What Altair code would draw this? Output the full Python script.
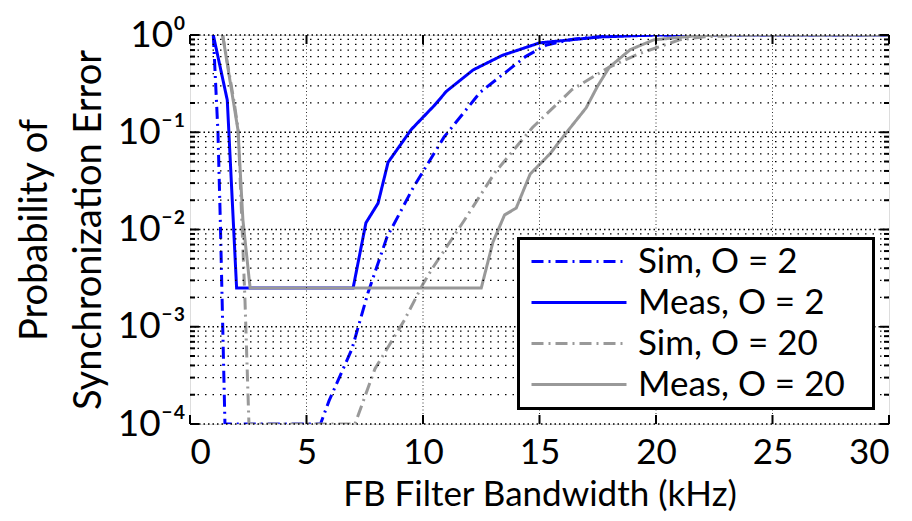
import altair as alt
import pandas as pd

# ---------------- data ----------------
SERIES = ["Sim, O = 2", "Meas, O = 2", "Sim, O = 20", "Meas, O = 20"]
COLORS = ["#0000ff", "#0000ff", "#999999", "#999999"]
DASHES = [[12, 5, 2, 5], [1, 0], [12, 5, 2, 5], [1, 0]]

sim2_x = [1.0, 1.2, 1.3, 1.5, 5.6, 5.97, 6.95, 7.64, 8.45, 9.6, 10.9, 12.45, 14.4, 15.3, 16.5, 18.0, 20.0, 30.0]
sim2_y = [1.0, 0.1, 0.0126, 1e-4, 1e-4, 1.74e-4, 5.9e-4, 2.24e-3, 8.3e-3, 0.0275, 0.089, 0.257, 0.60, 0.79, 0.91, 0.98, 1.0, 1.0]

meas2_x = [1.0, 1.6, 2.0, 7.0, 7.55, 8.07, 8.5, 9.5, 10.5, 11.0, 12.15, 13.4, 15.0, 17.6, 20.0, 30.0]
meas2_y = [1.0, 0.214, 2.5e-3, 2.5e-3, 0.0117, 0.0186, 0.049, 0.107, 0.19, 0.263, 0.437, 0.617, 0.83, 0.955, 1.0, 1.0]

sim20_x = [1.4, 1.9, 2.07, 2.36, 2.53, 7.08, 7.94, 9.2, 10.0, 10.4, 11.76, 13.1, 14.7, 16.4, 18.0, 19.3, 21.0, 22.0, 24.0, 30.0]
sim20_y = [1.0, 0.2, 0.105, 1.86e-3, 1e-4, 1e-4, 3.7e-4, 1.17e-3, 2.75e-3, 3.98e-3, 0.0123, 0.0389, 0.112, 0.275, 0.468, 0.646, 0.891, 0.955, 1.0, 1.0]

meas20_x = [1.4, 2.06, 2.27, 2.58, 12.5, 13.0, 13.5, 14.0, 14.6, 15.45, 16.0, 17.0, 17.5, 18.0, 18.9, 19.9, 21.6, 23.0, 30.0]
meas20_y = [1.0, 0.105, 0.0126, 2.5e-3, 2.5e-3, 7.4e-3, 0.0141, 0.0166, 0.0372, 0.060, 0.089, 0.178, 0.30, 0.468, 0.708, 0.891, 0.977, 1.0, 1.0]

X_TICKS = [0, 5, 10, 15, 20, 25, 30]
Y_EXPONENTS = [-4, -3, -2, -1, 0]
Y_TICK_LABELS = ["10⁻⁴", "10⁻³", "10⁻²", "10⁻¹", "10⁰"]
Y_MAJOR = [1e-4, 1e-3, 1e-2, 1e-1, 1.0]
Y_MINOR = [m * d for d in [1e-4, 1e-3, 1e-2, 1e-1] for m in range(2, 10)]

# ---------------- tables ----------------
rows = []
for name, xs, ys in zip(SERIES, [sim2_x, meas2_x, sim20_x, meas20_x], [sim2_y, meas2_y, sim20_y, meas20_y]):
    for i, (x, y) in enumerate(zip(xs, ys)):
        rows.append({"series": name, "bw": x, "p": y, "order": i})
df = pd.DataFrame(rows)

major_df = pd.DataFrame({"p": Y_MAJOR})
minor_df = pd.DataFrame({"p": Y_MINOR})
xgrid_df = pd.DataFrame({"bw": X_TICKS[1:-1]})
xtick_df = pd.DataFrame({"bw": X_TICKS})
frame_df = pd.DataFrame({"k": [0]})

W, H = 699, 389
FONT = "Lato"

xscale = alt.Scale(domain=[0, 30], nice=False, zero=False)
yscale = alt.Scale(type="log", domain=[1e-4, 1], nice=False)

label_expr = " : ".join(
    f"abs(log(datum.value)/LN10 - ({e})) < 0.01 ? '{lab}'" for e, lab in zip(Y_EXPONENTS, Y_TICK_LABELS)
) + " : ''"

X_TITLE = "FB Filter Bandwidth (kHz)"
Y_TITLE = ["Probability of", "Synchronization Error"]

X_AXIS = alt.Axis(
    values=X_TICKS, grid=False, ticks=False, tickSize=0, domain=False,
    labelFont=FONT, labelFontSize=35, labelColor="black", labelPadding=11,
    title=X_TITLE, titleFont=FONT, titleFontSize=35,
    titleFontWeight="normal", titleColor="black", titleBaseline="alphabetic", titleY=81,
)
Y_AXIS = alt.Axis(
    values=Y_MAJOR, labelExpr=label_expr, grid=False, ticks=False, tickSize=0, domain=False,
    labelFont=FONT, labelFontSize=37, labelColor="black", labelPadding=5,
    title=Y_TITLE, titleFont=FONT, titleFontSize=38,
    titleFontWeight="normal", titleColor="black", titleAngle=270, titleAlign="center",
    titleBaseline="alphabetic", titleX=-144, titleY=H / 2, titleLineHeight=54,
)
XENC = dict(scale=xscale, axis=X_AXIS, title=X_TITLE)
YENC = dict(scale=yscale, axis=Y_AXIS, title=Y_TITLE)

# ---------------- grid ----------------
ygrid_minor = alt.Chart(minor_df).mark_rule(color="black", strokeWidth=1.3, strokeDash=[1.5, 6]).encode(
    y=alt.Y("p:Q", **YENC), x=alt.value(0), x2=alt.value(W)
)
ygrid_major = alt.Chart(major_df).mark_rule(color="black", strokeWidth=1.3, strokeDash=[1.5, 3]).encode(
    y=alt.Y("p:Q", **YENC), x=alt.value(0), x2=alt.value(W)
)
xgrid = alt.Chart(xgrid_df).mark_rule(color="#333333", strokeWidth=1, strokeDash=[1, 2.5]).encode(
    x=alt.X("bw:Q", **XENC), y=alt.value(0), y2=alt.value(H)
)

# ---------------- lines ----------------
legend = alt.Legend(
    title=None, orient="none", legendX=332, legendY=201,
    symbolType="stroke", symbolSize=9025, symbolStrokeWidth=3,
    labelFont=FONT, labelFontSize=35, labelColor="black", labelLimit=500,
    padding=8, rowPadding=5, labelOffset=10, clipHeight=35,
    strokeColor="transparent", fillColor="transparent",
)
lines = alt.Chart(df).mark_line(strokeWidth=3, clip=True).encode(
    x=alt.X("bw:Q", **XENC),
    y=alt.Y("p:Q", **YENC),
    color=alt.Color("series:N", scale=alt.Scale(domain=SERIES, range=COLORS), legend=legend),
    strokeDash=alt.StrokeDash("series:N", scale=alt.Scale(domain=SERIES, range=DASHES), legend=legend),
    order="order:Q",
)

# ---------------- inside ticks ----------------
def yticks(data, length, right):
    if right:
        xa, xb = alt.value(W - length), alt.value(W)
    else:
        xa, xb = alt.value(0), alt.value(length)
    return alt.Chart(data).mark_rule(color="black", strokeWidth=2).encode(
        y=alt.Y("p:Q", **YENC), x=xa, x2=xb
    )

def xticks(length, top):
    if top:
        ya, yb = alt.value(0), alt.value(length)
    else:
        ya, yb = alt.value(H - length), alt.value(H)
    return alt.Chart(xtick_df).mark_rule(color="black", strokeWidth=2).encode(
        x=alt.X("bw:Q", **XENC), y=ya, y2=yb
    )

# legend frame (white box with thick black border, behind the legend entries)
legend_box = alt.Chart(frame_df).mark_rect(fill="white", stroke="black", strokeWidth=3).encode(
    x=alt.value(328.5), x2=alt.value(683.5), y=alt.value(203.5), y2=alt.value(373.5)
)

chart = alt.layer(
    lines, ygrid_minor, ygrid_major, xgrid,
    yticks(major_df, 9, False), yticks(minor_df, 5, False),
    yticks(major_df, 9, True), yticks(minor_df, 5, True),
    xticks(9, False), xticks(9, True),
    legend_box,
).properties(
    width=W, height=H,
    autosize=alt.AutoSizeParams(type="none"),
    padding={"left": 182, "top": 27, "right": 15, "bottom": 89},
).configure_view(
    stroke="black", strokeWidth=3
).configure(
    font=FONT, background="white"
)

chart.save("out.html", embed_options={"renderer": "svg", "actions": False})
